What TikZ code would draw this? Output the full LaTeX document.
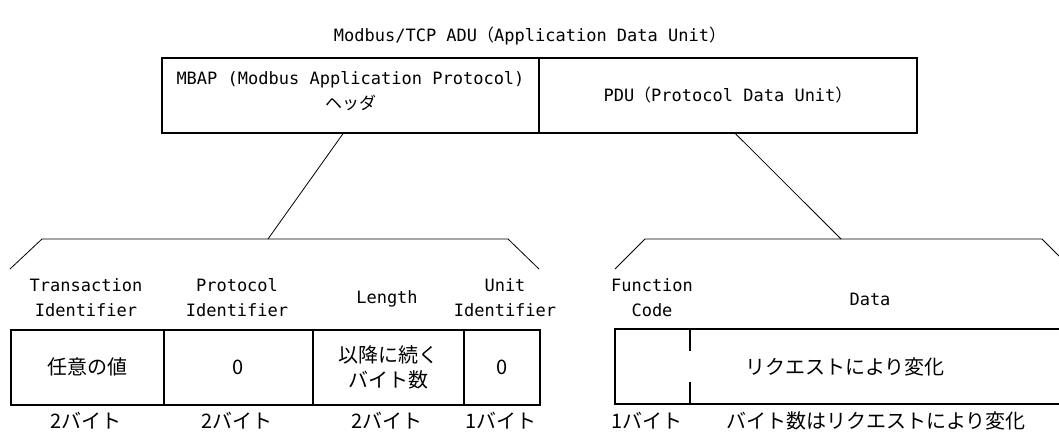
\documentclass[tikz,border=0pt]{standalone}
\usepackage{fontspec}
\setmainfont{DejaVu Sans Mono}
\newfontfamily\jpfont{Noto Sans CJK JP}
\usetikzlibrary{calc}
\newcommand{\jtext}[1]{{\jpfont #1}}

\begin{document}
\begin{tikzpicture}[x=1pt,y=-1pt,
  font=\fontsize{17}{25}\selectfont,
  jp/.style={font=\jpfont\fontsize{20}{26}\selectfont},
  box/.style={draw=black, line width=1.6pt, inner sep=0pt},
  cell/.style={box, minimum height=75, anchor=north west},
  thinline/.style={line width=0.8pt}]
\useasboundingbox (0,0) rectangle (1059,437);

\node (title) at (530,36) {Modbus/TCP ADU\jtext{（}Application Data Unit\jtext{）}};

% ADU header boxes
\node[box, minimum width=377, minimum height=75] (mbap) at (350.5,95.5) {};
\node[box, minimum width=378, minimum height=75] (pdu) at (728,95.5) {};
\node[align=center] (mbaptext) at (350.5,91) {MBAP (Modbus Application Protocol)\\\jtext{ヘッダ}};
\node (pdutext) at (728,95) {PDU\jtext{（}Protocol Data Unit\jtext{）}};

% brackets
\coordinate (mbapfoot) at (268,239);
\coordinate (pdufoot) at (841,239);
\draw[thinline] (10,269) -- (42,239) -- (508,239) -- (539,269);
\draw[thinline] (615,269) -- (645,239) -- (1042,239) -- (1059,256);
\draw[thinline] ($(mbap.south west)!0.48!(mbap.south east)$) -- (mbapfoot);
\draw[thinline] ($(pdu.south west)!0.52!(pdu.south east)$) -- (pdufoot);

% MBAP fields
\node[align=center] (tidname) at (86,298) {Transaction\\Identifier};
\node[align=center] (pidname) at (237,298) {Protocol\\Identifier};
\node (lenname) at (387,299) {Length};
\node[align=center] (uidname) at (505,298) {Unit\\Identifier};

\node[cell, minimum width=153, jp] (tid) at (10,329) {任意の値};
\node[cell, minimum width=149, jp] (pid) at (163,329) {0};
\node[cell, minimum width=151, jp, align=center, font=\jpfont\fontsize{20}{25}\selectfont] (len) at (312,329) {以降に続く\\バイト数};
\node[cell, minimum width=76, jp] (uid) at (463,329) {0};

\node[jp] (tidsize) at (86,421) {2バイト};
\node[jp] (pidsize) at (237,421) {2バイト};
\node[jp] (lensize) at (387,421) {2バイト};
\node[jp] (uidsize) at (501,421) {1バイト};

% PDU fields
\node[align=center] (fcname) at (652,298) {Function\\Code};
\node (dataname) at (870,299) {Data};
\draw[box] (1059,329) -- (615,329) -- (615,404) -- (1059,404);
\draw[box] (690,329) -- (690,351);
\draw[box] (690,382) -- (690,404);
\node[jp] (datatext) at (845,367) {リクエストにより変化};
\node[jp] (fcsize) at (647,421) {1バイト};
\node[jp] (datasize) at (876,421) {バイト数はリクエストにより変化};
\end{tikzpicture}
\end{document}
